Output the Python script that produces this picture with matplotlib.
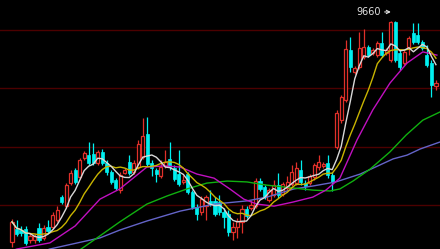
import numpy as np
import pandas as pd
import matplotlib
matplotlib.use("Agg")
import matplotlib.pyplot as plt

# daily candles, oldest first
opens = [5865, 6090, 6070, 6090, 5900, 5900, 6105, 5935, 6120, 6120,
         6240, 6635, 6480, 6875, 7100, 6980, 7305, 7355, 7375, 7220,
         7410, 7220, 7065, 6930, 6755, 7050, 7235, 7065, 7150, 7320,
         7715, 7220, 7100, 6995, 7170, 7290, 7135, 7030, 6895, 7030,
         6720, 6465, 6380, 6480, 6570, 6570, 6550, 6380, 6345, 6035,
         6120, 6210, 6430, 6450, 6480, 6910, 6810, 6585, 6670, 6840,
         6690, 6790, 6860, 6875, 7100, 6875, 6875, 6980, 7150, 7170,
         7220, 7015, 7495, 7955, 8300, 9160, 8780, 8865, 9035, 9210,
         9105, 9070, 9280, 9105, 8985, 9640, 9105, 8935, 9210, 9450,
         9415, 9295, 9070, 8935, 8540]
highs = [6260, 6240, 6140, 6140, 6020, 6000, 6190, 6155, 6240, 6380,
         6480, 6670, 6875, 7100, 7135, 7305, 7425, 7580, 7565, 7440,
         7460, 7270, 7100, 6960, 7065, 7135, 7355, 7270, 7615, 7990,
         8010, 7270, 7135, 7270, 7440, 7580, 7185, 7440, 7015, 7065,
         6755, 6515, 6655, 6670, 6755, 6635, 6670, 6450, 6415, 6210,
         6275, 6500, 6480, 6585, 6960, 6960, 6840, 6790, 6930, 7050,
         6895, 6995, 7185, 7235, 7270, 6930, 7030, 7220, 7355, 7235,
         7355, 7065, 8130, 8385, 9330, 9380, 8885, 9465, 9520, 9245,
         9190, 9310, 9465, 9190, 9660, 9655, 9160, 9160, 9400, 9620,
         9620, 9330, 9245, 8985, 8645]
lows = [5780, 5970, 5970, 5815, 5850, 5850, 5865, 5900, 6020, 6090,
        6210, 6515, 6450, 6840, 6860, 6945, 7270, 7185, 7185, 7185,
        7185, 7015, 6860, 6755, 6705, 7030, 7015, 7030, 7115, 7290,
        7170, 6995, 6895, 6960, 7135, 7100, 6910, 6825, 6860, 6690,
        6430, 6240, 6330, 6240, 6480, 6310, 6330, 6105, 5970, 5900,
        5935, 6020, 6275, 6415, 6450, 6740, 6600, 6550, 6635, 6620,
        6655, 6755, 6825, 6840, 6840, 6755, 6840, 6930, 7100, 7135,
        6960, 6740, 7460, 7905, 8265, 8780, 8745, 8830, 9005, 9035,
        9070, 9035, 9035, 9070, 8950, 8950, 8815, 8900, 9070, 9260,
        9260, 9160, 8865, 8350, 8470]
closes = [6210, 6000, 6020, 5850, 5970, 5970, 5900, 6105, 6055, 6330,
          6415, 6550, 6840, 7050, 6895, 7270, 7390, 7220, 7220, 7410,
          7220, 7065, 6895, 6790, 7015, 7100, 7050, 7220, 7545, 7685,
          7200, 7135, 7030, 7150, 7235, 7150, 6945, 6860, 6930, 6720,
          6465, 6345, 6600, 6635, 6515, 6345, 6380, 6295, 6035, 6120,
          6225, 6430, 6310, 6500, 6910, 6775, 6635, 6755, 6840, 6670,
          6860, 6895, 7065, 7135, 6895, 6825, 6995, 7185, 7235, 7200,
          7015, 6895, 8075, 8350, 9175, 8865, 8850, 9190, 9210, 9070,
          9160, 9280, 9070, 9160, 9640, 8985, 8865, 9125, 9365, 9295,
          9295, 9190, 8900, 8555, 8590]

# longer moving averages at sample positions
ma20_x = [-2.7, 1.1, 8.4, 14.0, 19.5, 23.9, 29.9, 33.7, 37.3, 41.0, 44.8, 48.3,
          51.4, 54.3, 58.1, 62.3, 66.7, 69.6, 72.7, 76.5, 80.0, 83.8, 87.6, 91.1, 94.2]
ma20_y = [5640, 5745, 5850, 6140, 6600, 6775, 7150, 7170, 7150, 7030, 6960, 6775,
          6600, 6515, 6480, 6550, 6635, 6755, 6960, 7615, 8130, 8590, 8935, 9125, 9070]
ma40_x = [14.4, 19.5, 23.9, 29.9, 34.4, 38.8, 43.2, 47.7, 52.1, 56.5,
          62.5, 66.7, 70.5, 72.7, 75.6, 79.4, 83.8, 87.4, 91.1, 94.9]
ma40_y = [5695, 5970, 6210, 6515, 6655, 6775, 6875, 6910, 6895, 6840,
          6790, 6755, 6740, 6775, 6910, 7115, 7410, 7700, 7955, 8095]
ma60_x = [4.0, 8.4, 19.5, 23.9, 29.9, 37.3, 44.8, 52.1, 56.5, 62.5,
          66.7, 71.8, 77.2, 84.5, 87.6, 90.5, 94.9]
ma60_y = [5625, 5745, 5935, 6070, 6225, 6395, 6515, 6570, 6635, 6775,
          6825, 6895, 7030, 7290, 7355, 7460, 7580]

grid_levels = [9500, 8500, 7500, 6500]

RED = "#e0302a"
CYAN = "#00f0f0"

fig = plt.figure(figsize=(4.4, 2.49), dpi=100)
fig.patch.set_facecolor("black")
ax = fig.add_axes([0, 0, 1, 1])
ax.set_facecolor("black")
for s in ax.spines.values():
    s.set_visible(False)
ax.set_xticks([])
ax.set_yticks([])

for lv in grid_levels:
    ax.axhline(lv, color="#4c0000", lw=1.0, zorder=1)

o = np.array(opens); h = np.array(highs); l = np.array(lows); c = np.array(closes)
x = np.arange(len(c))
up = c >= o
top = np.maximum(o, c)
bot = np.minimum(o, c)
w = 0.7

# wicks: up candles are hollow so the wick stops at the body
ax.vlines(x[up], top[up], h[up], color=RED, lw=0.9, zorder=2)
ax.vlines(x[up], l[up], bot[up], color=RED, lw=0.9, zorder=2)
ax.vlines(x[~up], l[~up], h[~up], color=CYAN, lw=0.9, zorder=2)

body = np.maximum(top - bot, 25)
ax.bar(x[up], body[up], w, bottom=bot[up], facecolor="black", edgecolor=RED, lw=0.9, zorder=3)
ax.bar(x[~up], body[~up], w, bottom=bot[~up], facecolor=CYAN, edgecolor=CYAN, lw=0.5, zorder=3)

# short moving averages from the closes
s = pd.Series(closes, dtype=float)
ma5 = s.rolling(5, min_periods=1).mean()
ma10 = s.rolling(10, min_periods=1).mean()

ax.plot(ma60_x, ma60_y, color="#6464c8", lw=1.0, zorder=4)
ax.plot(ma40_x, ma40_y, color="#10b010", lw=1.0, zorder=4)
ax.plot(ma20_x, ma20_y, color="#c010c0", lw=1.0, zorder=4)
ax.plot(x, ma10, color="#c8b400", lw=1.0, zorder=5)
ax.plot(x, ma5, color="#d8d8d8", lw=1.0, zorder=6)

# mark the highest high
hi = int(np.argmax(h))
ax.annotate(str(h[hi]), xy=(hi, h[hi] + 150), xytext=(hi - 2.3, h[hi] + 150),
            color="#e0e0e0", fontsize=7, ha="right", va="center",
            arrowprops=dict(arrowstyle="->", color="#e0e0e0", lw=0.8,
                            shrinkA=1, shrinkB=0, mutation_scale=6),
            zorder=7)

ax.set_xlim(-2.66, 94.9)
ax.set_ylim(5745, 10015)

fig.savefig("out.png", dpi=100, facecolor="black")
